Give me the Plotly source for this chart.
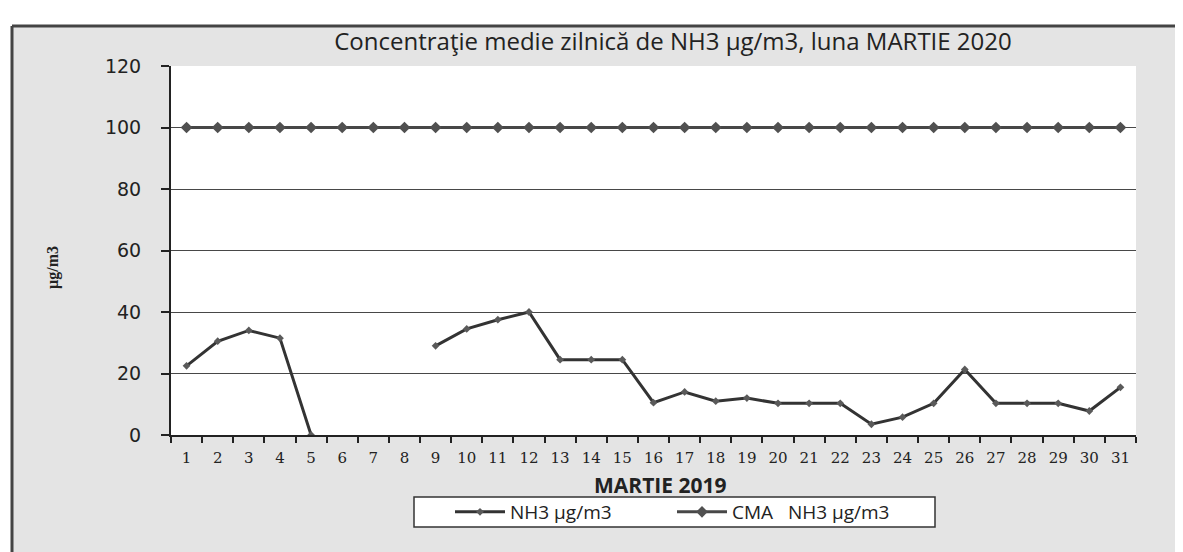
import plotly.graph_objects as go

days = list(range(1, 32))
nh3 = [22.5, 30.5, 34, 31.5, 0, None, None, None, 29, 34.5, 37.5, 40,
       24.5, 24.5, 24.5, 10.5, 14, 11, 12, 10.3, 10.3, 10.3, 3.5, 5.8, 10.3,
       21.3, 10.3, 10.3, 10.3, 7.8, 15.5]
cma = [100] * 31
yticks = [0, 20, 40, 60, 80, 100, 120]

title_text = "Concentraţie medie zilnică de NH3 µg/m3, luna MARTIE 2020"
xlabel = "MARTIE 2019"
ylabel = "µg/m3"
name_nh3 = "NH3 µg/m3"
name_cma = "CMA   NH3 µg/m3"

fig = go.Figure()
fig.add_trace(go.Scatter(
    x=days, y=nh3, name=name_nh3, mode="lines+markers",
    line=dict(color="#333333", width=3),
    marker=dict(symbol="diamond", size=6, color="#5a5a5a"),
    connectgaps=False,
))
fig.add_trace(go.Scatter(
    x=days, y=cma, name=name_cma, mode="lines+markers",
    line=dict(color="#474747", width=3),
    marker=dict(symbol="diamond", size=9, color="#505050"),
))

O = 8  # page body margin
W, H = 1183 - 2 * O, 552 - O
L, R, T, B = 171, 1136, 66, 435  # page pixel coords of plot area


def px(x):
    return (x - L) / (R - L)


def py(y):
    return (B - y) / (B - T)


fig.update_layout(
    width=W, height=H,
    margin=dict(l=L - O, r=W - (R - O), t=T - O, b=H - (B - O), pad=0),
    paper_bgcolor="#ffffff",
    plot_bgcolor="#ffffff",
    title=dict(text=title_text, xref="paper", x=px(673), xanchor="center",
               yref="container", y=1 - (42 - O) / H, yanchor="middle",
               font=dict(family="Open Sans", size=24, color="#222")),
    showlegend=True,
    legend=dict(orientation="h", x=px(450), y=py(512), xanchor="left", yanchor="middle",
                bgcolor="rgba(0,0,0,0)", borderwidth=0,
                font=dict(family="Open Sans", size=19, color="#222"),
                itemwidth=50, entrywidth=157),
    xaxis=dict(range=[0.5, 31.5], tickmode="array", tickvals=days,
               ticktext=[str(d) for d in days], ticks="", showgrid=False,
               showline=True, linecolor="#222", linewidth=2,
               ticklabelstandoff=8,
               tickfont=dict(family="DejaVu Serif", size=15, color="#222"),
               minor=dict(tick0=0.5, dtick=1, ticks="outside", ticklen=6,
                          tickcolor="#222", tickwidth=1.5),
               zeroline=False),
    yaxis=dict(range=[0, 120], tickmode="array", tickvals=yticks, ticks="outside",
               ticklen=8, tickcolor="#222", tickwidth=1.5,
               showgrid=True, gridcolor="#484848", gridwidth=1.4,
               showline=True, linecolor="#222", linewidth=2,
               ticklabelstandoff=16,
               tickfont=dict(family="DejaVu Sans", size=19, color="#222"),
               zeroline=False),
    shapes=[
        dict(type="rect", xref="paper", yref="paper",
             x0=px(12), x1=px(1200), y0=py(570), y1=py(26),
             line=dict(width=0), fillcolor="#e4e4e4", layer="below"),
        dict(type="line", xref="paper", yref="paper",
             x0=px(12), x1=px(1200), y0=py(26), y1=py(26),
             line=dict(color="#444", width=3), layer="below"),
        dict(type="line", xref="paper", yref="paper",
             x0=px(12), x1=px(12), y0=py(26), y1=py(570),
             line=dict(color="#444", width=3), layer="below"),
        dict(type="rect", xref="paper", yref="paper", x0=0, x1=1, y0=0, y1=1,
             line=dict(width=0), fillcolor="#ffffff", layer="below"),
        dict(type="rect", xref="paper", yref="paper",
             x0=px(414), x1=px(935), y0=py(527), y1=py(497),
             line=dict(color="#333", width=1.5), fillcolor="#ffffff", layer="below"),
    ],
    annotations=[
        dict(text="<b>" + xlabel + "</b>", xref="paper", yref="paper", x=px(660), y=py(485),
             showarrow=False, font=dict(family="Open Sans", size=21, color="#222"),
             xanchor="center", yanchor="middle"),
        dict(text="<b>" + ylabel + "</b>", xref="paper", yref="paper", x=px(53), y=py(268),
             showarrow=False, textangle=-90,
             font=dict(family="Liberation Serif", size=16, color="#222"),
             xanchor="center", yanchor="middle"),
    ],
)

fig.write_html("out.html")
